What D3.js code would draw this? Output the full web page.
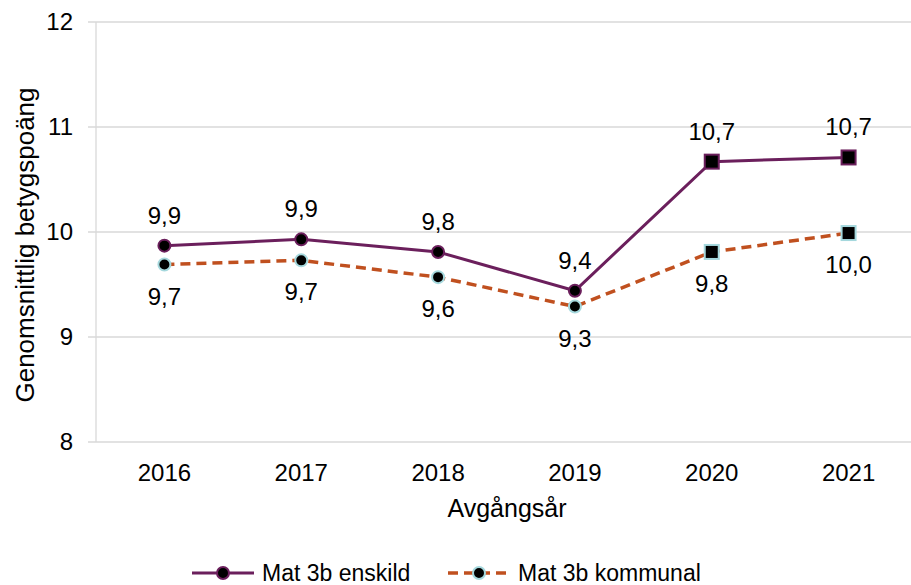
<!DOCTYPE html>
<html>
<head>
<meta charset="utf-8">
<script src="https://cdn.jsdelivr.net/npm/d3@7"></script>
<style>
    body { margin: 0; background: #fff; }
    text { font-family: "Liberation Sans", Arial, sans-serif; fill: #000; }
</style>
</head>
<body>
<svg id="chart"></svg>
<script>
// Data
var years = ["2016", "2017", "2018", "2019", "2020", "2021"];
var enskild = [9.87, 9.93, 9.81, 9.44, 10.67, 10.71];
var kommunal = [9.69, 9.73, 9.57, 9.29, 9.81, 9.99];
var enskildLabels = ["9,9", "9,9", "9,8", "9,4", "10,7", "10,7"];
var kommunalLabels = ["9,7", "9,7", "9,6", "9,3", "9,8", "10,0"];
var yTicks = [8, 9, 10, 11, 12];
// 2020 and 2021 use square markers
var squareYears = ["2020", "2021"];

var dimensions = {
    width: 911,
    height: 585,
    margin: { top: 22, bottom: 143, right: -6, left: 96 }
};

var fontSize = "24px";

var svg = d3.select("#chart")
    .attr("width", dimensions.width)
    .attr("height", dimensions.height);

var xScale = d3.scaleBand()
    .domain(years)
    .range([dimensions.margin.left, dimensions.width - dimensions.margin.right]);

var yScale = d3.scaleLinear()
    .domain([8, 12])
    .range([dimensions.height - dimensions.margin.bottom, dimensions.margin.top]);

var cx = d => xScale(d) + xScale.bandwidth() / 2;

// Gridlines
svg.append("g")
    .selectAll("line")
    .data(yTicks)
    .enter()
    .append("line")
    .attr("x1", dimensions.margin.left - 8)
    .attr("x2", dimensions.width)
    .attr("y1", d => yScale(d))
    .attr("y2", d => yScale(d))
    .attr("stroke", "#d9d9d9")
    .attr("stroke-width", 1.3);

// Vertical axis line
svg.append("line")
    .attr("x1", dimensions.margin.left)
    .attr("x2", dimensions.margin.left)
    .attr("y1", yScale(12))
    .attr("y2", yScale(8))
    .attr("stroke", "#d9d9d9")
    .attr("stroke-width", 1.3);

// Y tick labels
svg.append("g")
    .selectAll("text")
    .data(yTicks)
    .enter()
    .append("text")
    .attr("x", dimensions.margin.left - 23)
    .attr("y", d => yScale(d))
    .attr("dy", "0.35em")
    .attr("text-anchor", "end")
    .style("font-size", fontSize)
    .text(d => d);

// X tick labels
svg.append("g")
    .selectAll("text")
    .data(years)
    .enter()
    .append("text")
    .attr("x", d => cx(d))
    .attr("y", yScale(8) + 39)
    .attr("text-anchor", "middle")
    .style("font-size", fontSize)
    .text(d => d);

// Axis titles
svg.append("text")
    .attr("x", 507)
    .attr("y", 517)
    .attr("text-anchor", "middle")
    .style("font-size", "25px")
    .text("Avgångsår");

svg.append("text")
    .attr("transform", "translate(34, 245) rotate(-90)")
    .attr("text-anchor", "middle")
    .style("font-size", "26px")
    .text("Genomsnittlig betygspoäng");

var series = [
    { name: "Mat 3b enskild", values: enskild, labels: enskildLabels, color: "#6b1f5c", marker: "#6b1f5c", dash: null, width: 3, labelDy: -22 },
    { name: "Mat 3b kommunal", values: kommunal, labels: kommunalLabels, color: "#c0501f", marker: "#a5d8dd", dash: "10,6", width: 3.5, labelDy: 40 }
];

var line = d3.line()
    .x((d, i) => cx(years[i]))
    .y(d => yScale(d));

series.forEach(function (s) {
    svg.append("path")
        .datum(s.values)
        .attr("d", line)
        .attr("fill", "none")
        .attr("stroke", s.color)
        .attr("stroke-width", s.width)
        .attr("stroke-dasharray", s.dash);
});

series.forEach(function (s) {
    var pts = years.map((y, i) => ({ year: y, value: s.values[i], label: s.labels[i] }));

    svg.append("g")
        .selectAll("circle")
        .data(pts.filter(d => squareYears.indexOf(d.year) < 0))
        .enter()
        .append("circle")
        .attr("cx", d => cx(d.year))
        .attr("cy", d => yScale(d.value))
        .attr("r", 6)
        .attr("fill", "#000")
        .attr("stroke", s.marker)
        .attr("stroke-width", 2);

    svg.append("g")
        .selectAll("rect")
        .data(pts.filter(d => squareYears.indexOf(d.year) >= 0))
        .enter()
        .append("rect")
        .attr("x", d => cx(d.year) - 7)
        .attr("y", d => yScale(d.value) - 7)
        .attr("width", 14)
        .attr("height", 14)
        .attr("fill", "#000")
        .attr("stroke", s.marker)
        .attr("stroke-width", 2);

    svg.append("g")
        .selectAll("text")
        .data(pts)
        .enter()
        .append("text")
        .attr("x", d => cx(d.year))
        .attr("y", d => yScale(d.value) + s.labelDy)
        .attr("text-anchor", "middle")
        .style("font-size", fontSize)
        .text(d => d.label);
});

// Legend
var legendX = [192, 448];
series.forEach(function (s, i) {
    var g = svg.append("g")
        .attr("transform", `translate(${legendX[i]}, 573)`);
    g.append("line")
        .attr("x1", 0)
        .attr("x2", 62)
        .attr("stroke", s.color)
        .attr("stroke-width", s.width)
        .attr("stroke-dasharray", s.dash);
    g.append("circle")
        .attr("cx", 31)
        .attr("r", 6)
        .attr("fill", "#000")
        .attr("stroke", s.marker)
        .attr("stroke-width", 2);
    g.append("text")
        .attr("x", 70)
        .attr("dy", "0.35em")
        .style("font-size", "23px")
        .text(s.name);
});
</script>
</body>
</html>
